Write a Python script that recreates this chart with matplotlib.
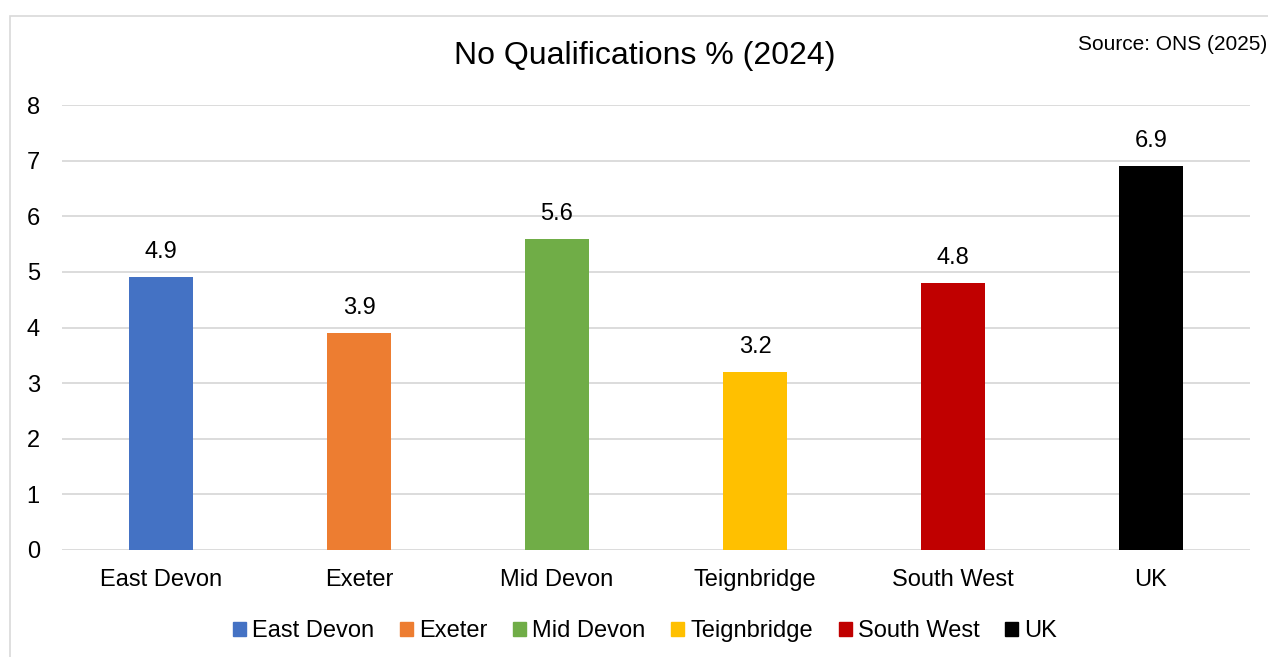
import matplotlib
matplotlib.use("Agg")
import matplotlib.pyplot as plt
from matplotlib.patches import Rectangle, Patch

plt.rcParams['font.family'] = ['Liberation Sans', 'DejaVu Sans']

areas = ['East Devon', 'Exeter', 'Mid Devon', 'Teignbridge', 'South West', 'UK']
values = [4.9, 3.9, 5.6, 3.2, 4.8, 6.9]
colours = ['#4472c4', '#ed7d31', '#70ad47', '#ffc000', '#c00000', '#000000']

W, H = 1268, 657
fig = plt.figure(figsize=(W / 100, H / 100), dpi=100)

# chart border (runs off the right/bottom edges in the original)
fig.patches.append(Rectangle((10 / W, -0.1), 2, (H - 16) / H + 0.1,
                             transform=fig.transFigure, fill=False,
                             edgecolor='#d9d9d9', lw=1.2))

ax = fig.add_axes([62 / W, 1 - 550 / H, (1250 - 62) / W, (550 - 105) / H])
x = range(len(areas))
ax.bar(x, values, width=0.323, color=colours, zorder=3)

for xi, v in zip(x, values):
    ax.annotate(f'{v}', (xi, v), xytext=(0, 18), textcoords='offset points',
                ha='center', va='center', fontsize=17)

ax.set_xlim(-0.5, len(areas) - 0.5)
ax.set_ylim(0, 8)
ax.set_yticks(range(0, 9))
ax.set_xticks(list(x))
ax.set_xticklabels(areas, fontsize=17)
ax.tick_params(axis='y', labelsize=17, length=0, pad=16)
ax.tick_params(axis='x', length=0, pad=14)
ax.grid(axis='y', color='#d9d9d9', lw=1.3, zorder=0)
for s in ax.spines.values():
    s.set_visible(False)

fig.text(645 / W, 1 - 56 / H, 'No Qualifications % (2024)', ha='center',
         va='center', fontsize=23)
fig.text(1078 / W, 1 - 45 / H, 'Source: ONS (2025)', ha='left',
         va='center', fontsize=15)

handles = [Patch(color=c, label=a) for a, c in zip(areas, colours)]
fig.legend(handles=handles, loc='center', bbox_to_anchor=(645 / W, 1 - 631 / H),
           ncol=6, frameon=False, fontsize=17, handlelength=0.55,
           handleheight=0.55, handletextpad=0.25, columnspacing=1.1)

fig.savefig('out.png', dpi=100)
